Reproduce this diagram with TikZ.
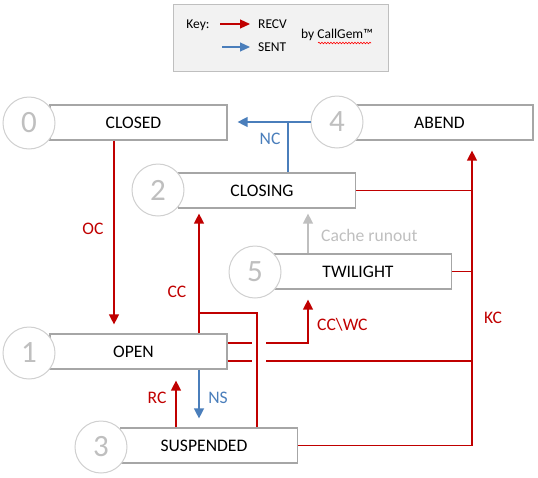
\documentclass[tikz,border=0pt]{standalone}
\usepackage{fontspec}
\setmainfont{Carlito}
\usetikzlibrary{arrows.meta,decorations.pathmorphing}
\definecolor{recvred}{HTML}{C00000}
\definecolor{sentblue}{HTML}{4A7EBB}
\definecolor{boxgray}{HTML}{A6A6A6}
\definecolor{circgray}{HTML}{D0D0D0}
\definecolor{numgray}{HTML}{BFBFBF}
\definecolor{keyfill}{HTML}{F2F2F2}
\begin{document}
\begin{tikzpicture}[x=1pt,y=-1pt,
  statebox/.style={draw=boxgray, line width=1.2pt, fill=white, minimum width=177pt,
    minimum height=35pt, inner sep=0pt, font=\fontsize{17.6}{20}\selectfont,
    execute at begin node={\hspace*{-10pt}}},
  numcirc/.style={circle, draw=circgray, line width=1pt, fill=white, minimum size=52pt,
    inner sep=0pt, text=numgray, font=\fontsize{31}{31}\selectfont},
  recvline/.style={color=recvred, line width=1.3pt},
  sentline/.style={color=sentblue, line width=1.3pt},
  recv/.style={recvline, -{Triangle[length=10pt,width=10pt]}},
  sent/.style={sentline, -{Triangle[length=10pt,width=10pt]}},
  runout/.style={color=numgray, line width=1.3pt, -{Triangle[length=10pt,width=10pt]}},
  lbl/.style={inner sep=0pt, font=\fontsize{17.6}{20}\selectfont},
  keytxt/.style={inner sep=0pt, font=\fontsize{13.5}{16}\selectfont},
  keyarrow/.style={line width=1.2pt, -{Triangle[length=10pt,width=9pt]}}
]
\useasboundingbox (0,0) rectangle (538,477);

% key
\node[draw=numgray, line width=1pt, fill=keyfill, minimum width=215pt, minimum height=67pt, inner sep=0pt] (key) at (280.5,37.5) {};
\node[keytxt] (keylbl) at (198,25) {Key:};
\coordinate (kr1) at (220,24);
\coordinate (kr2) at (250,24);
\coordinate (ks1) at (222,47);
\coordinate (ks2) at (250,47);
\draw[keyarrow, color=recvred] (kr1) -- (kr2);
\draw[keyarrow, color=sentblue] (ks1) -- (ks2);
\node[keytxt, anchor=west] (krecv) at (258,24) {RECV};
\node[keytxt, anchor=west] (ksent) at (258,47) {SENT};
\node[keytxt, anchor=west] (kby) at (301,35) {by CallGem™};
\coordinate (w1) at (318,43);
\coordinate (w2) at (371,43);
\draw[color=red, line width=0.6pt, decorate, decoration={snake, amplitude=0.8pt, segment length=3pt}] (w1) -- (w2);

% state boxes
\node[statebox] (closed) at (138.5,122.5) {CLOSED};
\node[statebox] (abend) at (444.5,122.5) {ABEND};
\node[statebox] (closing) at (267,190.5) {CLOSING};
\node[statebox] (twilight) at (363,271.5) {TWILIGHT};
\node[statebox] (open) at (138.5,351.5) {OPEN};
\node[statebox] (susp) at (209,445.5) {SUSPENDED};

% number circles
\node[numcirc] (c0) at (29,123) {0};
\node[numcirc] (c4) at (337,122) {4};
\node[numcirc] (c2) at (158,190) {2};
\node[numcirc] (c5) at (255,272) {5};
\node[numcirc] (c1) at (29,353) {1};
\node[numcirc] (c3) at (101,447) {3};

% OC
\draw[recv, shorten >=9pt] (closed.south -| 114,0) -- (open.north -| 114,0);
\node[lbl, text=recvred] (oc) at (93,229) {OC};

% NC
\draw[sent, shorten >=10pt] (c4.west) -- (closed.east |- c4.west);
\draw[sentline] (closing.north -| 288,0) -- (288,122);
\node[lbl, text=sentblue] (nc) at (270,139) {NC};

% KC
\coordinate (kcx) at (472,0);
\draw[recv, shorten >=10pt] (susp.east) -| (kcx |- abend.south);
\draw[recvline] (closing.east) -- (closing.east -| kcx);
\draw[recvline] (twilight.east) -- (twilight.east -| kcx);
\draw[recvline] (open.east |- 0,361) -- (252,361);
\draw[recvline] (266,361) -- (kcx |- 0,361);
\node[lbl, text=recvred] (kc) at (493,318) {KC};

% CC
\draw[recv, shorten >=5pt] (open.north -| 199,0) -- (closing.south -| 199,0);
\draw[recvline] (susp.north -| 257,0) |- (199,313);
\node[lbl, text=recvred] (cc) at (177,292) {CC};

% CC\WC
\draw[recvline] (open.east |- 0,343) -- (252,343);
\draw[recv, shorten >=10pt] (266,343) -| (twilight.south -| 308,0);
\node[lbl, text=recvred, anchor=west] (ccwc) at (317,325) {CC\textbackslash WC};

% Cache runout
\draw[runout, shorten >=5pt] (twilight.north -| 308,0) -- (closing.south -| 308,0);
\node[lbl, text=numgray, anchor=west] (cro) at (321,235) {Cache runout};

% RC / NS
\draw[recv, shorten >=11pt] (susp.north -| 176,0) -- (open.south -| 176,0);
\node[lbl, text=recvred] (rc) at (157,398) {RC};
\draw[sent, shorten >=9pt] (open.south -| 199,0) -- (susp.north -| 199,0);
\node[lbl, text=sentblue] (ns) at (218,398) {NS};
\end{tikzpicture}
\end{document}
